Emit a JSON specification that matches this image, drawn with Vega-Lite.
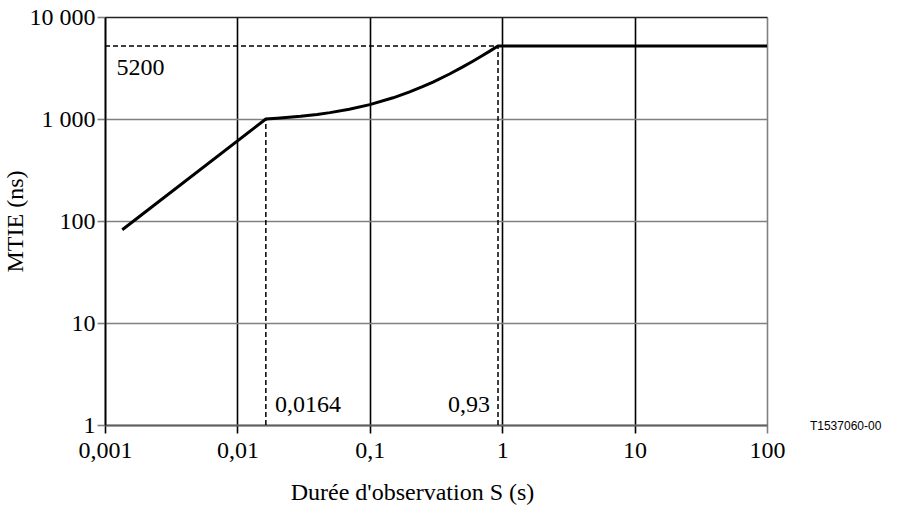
{
  "$schema": "https://vega.github.io/schema/vega-lite/v6.json",
  "autosize": "none",
  "width": 662,
  "height": 408,
  "padding": {"left": 105, "top": 17, "right": 149, "bottom": 81},
  "background": "white",
  "config": {
    "view": {"stroke": null},
    "font": "Liberation Serif"
  },
  "datasets": {
    "curve": [
      {"S": 0.00135, "MTIE": 82},
      {"S": 0.0164, "MTIE": 1000},
      {"S": 0.02, "MTIE": 1017},
      {"S": 0.03, "MTIE": 1062},
      {"S": 0.04, "MTIE": 1108},
      {"S": 0.05, "MTIE": 1155},
      {"S": 0.07, "MTIE": 1246},
      {"S": 0.1, "MTIE": 1384},
      {"S": 0.15, "MTIE": 1614},
      {"S": 0.2, "MTIE": 1844},
      {"S": 0.25, "MTIE": 2074},
      {"S": 0.3, "MTIE": 2304},
      {"S": 0.4, "MTIE": 2763},
      {"S": 0.5, "MTIE": 3223},
      {"S": 0.6, "MTIE": 3683},
      {"S": 0.7, "MTIE": 4143},
      {"S": 0.8, "MTIE": 4602},
      {"S": 0.93, "MTIE": 5200},
      {"S": 100, "MTIE": 5200}
    ],
    "dashes": [
      {"x": 0.001, "y": 5200, "x2": 0.93, "y2": 5200},
      {"x": 0.0164, "y": 1, "x2": 0.0164, "y2": 1000},
      {"x": 0.93, "y": 1, "x2": 0.93, "y2": 5200}
    ],
    "leftlabels": [
      {"x": 0.00122, "y": 2700, "text": "5200"},
      {"x": 0.0192, "y": 1.34, "text": "0,0164"}
    ],
    "rightlabels": [
      {"x": 0.81, "y": 1.34, "text": "0,93"}
    ],
    "ref": [
      {"x": 211, "y": 0.9, "text": "T1537060-00"}
    ]
  },
  "layer": [
    {
      "data": {"name": "dashes"},
      "mark": {"type": "rule", "strokeDash": [5, 3], "strokeWidth": 1.5, "color": "black"},
      "encoding": {
        "x": {"field": "x", "type": "quantitative",
          "scale": {"type": "log", "domain": [0.001, 100]},
          "axis": {
            "values": [0.001, 0.01, 0.1, 1, 10, 100],
            "labelExpr": "replace(toString(datum.value), '.', ',')",
            "labelFlush": false,
            "labelFont": "Liberation Serif",
            "labelFontSize": 24,
            "labelColor": "black",
            "titleFont": "Liberation Serif",
            "titleFontSize": 24,
            "titleFontWeight": "normal",
            "titleColor": "black",
            "titleX": 307,
            "titleAlign": "center",
            "grid": true,
            "gridColor": {"condition": {"test": "datum.value == 100", "value": "#808080"}, "value": "black"},
            "gridWidth": 1.6,
            "gridOpacity": 1,
            "tickColor": {"condition": {"test": "datum.value == 100", "value": "#808080"}, "value": "black"},
            "tickSize": 8,
            "tickWidth": 1.6,
            "domainColor": "#606060",
            "domainWidth": 2,
            "labelPadding": 5,
            "title": "Durée d'observation S (s)",
            "titlePadding": 18
          }},
        "y": {"field": "y", "type": "quantitative",
          "scale": {"type": "log", "domain": [1, 10000]},
          "axis": {
            "values": [1, 10, 100, 1000, 10000],
            "labelExpr": "datum.value >= 1000 ? replace(format(datum.value, ','), ',', ' ') : toString(datum.value)",
            "labelFlush": false,
            "labelFont": "Liberation Serif",
            "labelFontSize": 24,
            "labelColor": "black",
            "titleFont": "Liberation Serif",
            "titleFontSize": 24,
            "titleFontWeight": "normal",
            "titleColor": "black",
            "grid": true,
            "gridColor": {"condition": {"test": "datum.value == 10000", "value": "#222222"}, "value": "#808080"},
            "gridWidth": 1.6,
            "gridOpacity": 1,
            "tickColor": "#808080",
            "tickSize": 8,
            "tickWidth": 1.6,
            "domainColor": "black",
            "domainWidth": 1.6,
            "labelPadding": 2,
            "title": "MTIE (ns)",
            "titlePadding": 2
          }},
        "x2": {"field": "x2"},
        "y2": {"field": "y2"}
      }
    },
    {
      "data": {"name": "curve"},
      "mark": {"type": "line", "color": "black", "strokeWidth": 3, "interpolate": "linear"},
      "encoding": {
        "x": {"field": "S", "type": "quantitative"},
        "y": {"field": "MTIE", "type": "quantitative"}
      }
    },
    {
      "data": {"name": "leftlabels"},
      "mark": {"type": "text", "font": "Liberation Serif", "fontSize": 24, "baseline": "alphabetic", "align": "left", "color": "black"},
      "encoding": {
        "x": {"field": "x", "type": "quantitative"},
        "y": {"field": "y", "type": "quantitative"},
        "text": {"field": "text"}
      }
    },
    {
      "data": {"name": "rightlabels"},
      "mark": {"type": "text", "font": "Liberation Serif", "fontSize": 24, "baseline": "alphabetic", "align": "right", "color": "black"},
      "encoding": {
        "x": {"field": "x", "type": "quantitative"},
        "y": {"field": "y", "type": "quantitative"},
        "text": {"field": "text"}
      }
    },
    {
      "data": {"name": "ref"},
      "mark": {"type": "text", "font": "Liberation Sans", "fontSize": 12, "baseline": "alphabetic", "align": "left", "color": "black", "clip": false},
      "encoding": {
        "x": {"field": "x", "type": "quantitative"},
        "y": {"field": "y", "type": "quantitative"},
        "text": {"field": "text"}
      }
    }
  ]
}
